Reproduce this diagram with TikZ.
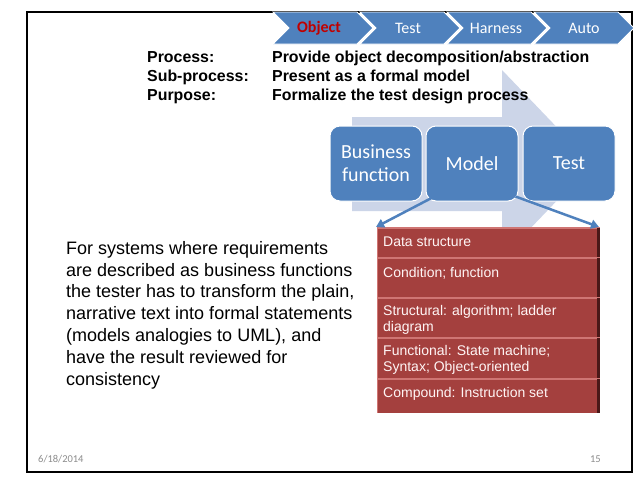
\documentclass[tikz,border=0pt]{standalone}
\usepackage{fontspec}
\setmainfont{Liberation Sans}
\newfontfamily\calfont{Carlito}
\usetikzlibrary{arrows.meta}
\definecolor{cblue}{HTML}{4F81BD}
\definecolor{bgarrowc}{HTML}{CCD5E8}
\definecolor{redc}{HTML}{A4403E}
\definecolor{redhi}{HTML}{CF7573}
\definecolor{reddark}{HTML}{4A1818}
\definecolor{objred}{HTML}{C00000}
\definecolor{footgrey}{HTML}{8C8C8C}
\tikzset{
  chev/.style={fill=cblue, draw=white, line width=0.8},
  chevtext/.style={text=white, font=\calfont\fontsize{16}{18}\selectfont, inner sep=0},
  hdr/.style={font=\bfseries\fontsize{15.9}{19}\selectfont, inner sep=0},
  pbox/.style={rounded corners=10, fill=cblue, draw=white, line width=1,
    minimum width=92, minimum height=75, text=white, align=center, inner sep=0,
    font=\calfont\fontsize{20}{23}\selectfont},
  redrow/.style={fill=redc, minimum width=223, inner sep=0, draw=none},
  rowtext/.style={text=white!96!red, font=\fontsize{14}{15.5}\selectfont, align=left, inner sep=0},
  barrow/.style={draw=cblue, line width=2.5, -{Triangle[length=8,width=9]}},
  bodytext/.style={font=\fontsize{18}{21.8}\selectfont, align=left, inner sep=0},
  foot/.style={text=footgrey, font=\calfont\fontsize{10.5}{12}\selectfont, inner sep=0}
}
\begin{document}
\begin{tikzpicture}[x=1pt,y=-1pt]
\useasboundingbox (0,0) rectangle (638,479);
\fill[white] (0,0) rectangle (638,479);

% frame
\draw[line width=1.2] (27,12) rectangle (632,472);

% chevrons
\foreach \L/\n in {273/c1, 360/c2, 447/c3, 534/c4}{
  \fill[chev] (\L,12) -- ++(84,0) -- ++(16,16) -- ++(-16,16) -- ++(-84,0) -- ++(16,-16) -- cycle;
}
\node[chevtext, text=objred, font=\calfont\bfseries\fontsize{16}{18}\selectfont] (c1) at (319,28) {Object};
\node[chevtext] (c2) at (408,28) {Test};
\node[chevtext] (c3) at (496,28) {Harness};
\node[chevtext] (c4) at (584,28) {Auto};

% background arrow
\fill[bgarrowc] (352,117) -- (502,117) -- (502,70) -- (592,164) -- (502,258) -- (502,211) -- (352,211) -- cycle;

% header text
\node[hdr, anchor=base west] (l1) at (147,62) {Process:};
\node[hdr, anchor=base west] (l2) at (147,81) {Sub-process:};
\node[hdr, anchor=base west] (l3) at (147,100.5) {Purpose:};
\node[hdr, anchor=base west] (v1) at (272,62) {Provide object decomposition/abstraction};
\node[hdr, anchor=base west] (v2) at (272,81) {Present as a formal model};
\node[hdr, anchor=base west] (v3) at (272,100.5) {Formalize the test design process};

% process boxes
\node[pbox] (bf) at (376,163.5) {Business\\function};
\node[pbox] (model) at (472,163.5) {Model};
\node[pbox] (test) at (569,163.5) {Test};

% red list
\foreach \i/\t/\h in {1/228/30, 2/258/40, 3/298/40, 4/338/41, 5/379/34}{
  \node[redrow, minimum height=\h, anchor=north west] (r\i) at (377,\t) {};
  \draw[redhi, line width=1.2] (r\i.north west) -- (r\i.north east);
  \draw[redhi, line width=1] (r\i.north west) -- (r\i.south west);
  \fill[reddark] ([xshift=-3.5]r\i.north east) rectangle (r\i.south east);
}
\node[rowtext, anchor=base west] (t1) at (383,246) {Data structure};
\node[rowtext, anchor=base west] (t2) at (383,277) {Condition; function};
\node[rowtext, anchor=base west] (t3) at (383,331) {Structural: algorithm; ladder\\diagram};
\node[rowtext, anchor=base west] (t4) at (383,371) {Functional: State machine;\\Syntax; Object-oriented};
\node[rowtext, anchor=base west] (t5) at (383,397) {Compound: Instruction set};

% arrows from Model
\coordinate (a1) at (376,227);
\coordinate (a2) at (599,227);
\draw[barrow] ([shift={(7,-4)}]model.south west) -- (a1);
\draw[barrow] ([shift={(-3,-5)}]model.south east) -- (a2);

% body text
\node[bodytext, anchor=base west] (body) at (66,385) {For systems where requirements\\are described as business functions\\the tester has to transform the plain,\\narrative text into formal statements\\(models analogies to UML), and\\have the result reviewed for\\consistency};

% footer
\node[foot, anchor=base west] (date) at (38,462) {6/18/2014};
\node[foot, anchor=base east] (pg) at (601,462) {15};
\end{tikzpicture}
\end{document}
